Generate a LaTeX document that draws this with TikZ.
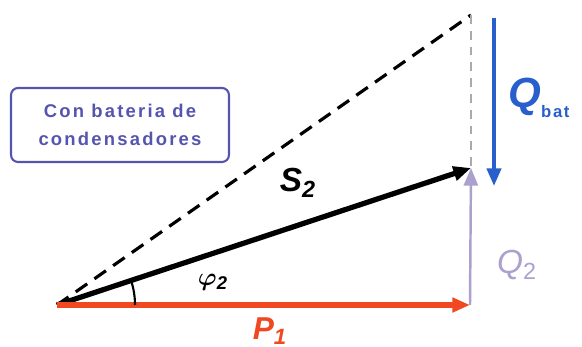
\documentclass[tikz,border=0pt]{standalone}
\usepackage{amsmath}
\usepackage{fontspec}
\setmainfont{Liberation Sans}
\usetikzlibrary{
  arrows.meta,
  positioning,
  calc
}
\definecolor{powerred}{RGB}{240,72,32}
\definecolor{batblue}{RGB}{40,95,205}
\definecolor{qlilac}{RGB}{172,160,205}
\definecolor{boxblue}{RGB}{85,85,175}
\definecolor{guidegray}{RGB}{170,170,170}
\tikzset{
  vec/.style={line width=#1, -{Triangle[length=10pt, width=8pt]}},
  lbl/.style={font=\bfseries\itshape}
}

\begin{document}
\begin{tikzpicture}[x=0.02cm, y=-0.02cm]
  \useasboundingbox (0,0) rectangle (582,347);
  % triangle corners
  \coordinate (o) at (57,305);
  \coordinate (p) at (470,305);
  \coordinate (s) at (471,168);
  \coordinate (t) at (471,15);
  \coordinate (qtop) at (494,18);
  \coordinate (qbot) at (494,186);
  % guides
  \draw[line width=1.8pt, dash pattern=on 8pt off 5pt] (o) -- (t);
  \draw[guidegray, line width=0.8pt, dash pattern=on 5pt off 4pt] (t) -- (s);
  % vectors
  \draw[vec=1.4pt, qlilac] (p) -- (s);
  \draw[vec=3pt, black] (o) -- (s);
  \draw[vec=3pt, powerred] (o) -- (p);
  \draw[vec=2.2pt, batblue] (qtop) -- (qbot);
  % angle
  \draw[line width=1.2pt] ($(o)+(78,0)$) arc[start angle=0, end angle=18.3, radius=1.56cm];
  % labels
  \node[lbl, font=\fontsize{19}{20}\bfseries\itshape] (slbl) at (298,183) {S\textsubscript{2}};
  \node[font=\fontsize{15}{16}\bfseries\itshape] (philbl) at (213,282) {$\boldsymbol{\varphi}$\textsubscript{2}};
  \node[powerred, font=\fontsize{18}{19}\bfseries\itshape] (plbl) at (270,331) {P\textsubscript{1}};
  \node[qlilac, font=\fontsize{19}{20}\itshape] (q2lbl) at (517,265) {Q\textsubscript{\upshape 2}};
  \node[batblue, anchor=west, inner sep=0pt, font=\fontsize{24}{25}\bfseries\itshape] (qbatlbl) at (508,98)
    {Q\raisebox{-6pt}{\fontsize{9.5}{9.5}\selectfont\upshape\addfontfeature{LetterSpace=10}bat}};
  % note box
  \node[draw=boxblue, line width=1.2pt, rounded corners=4pt, text=boxblue, align=center,
        font=\fontsize{10.5}{16}\bfseries\addfontfeature{LetterSpace=12}, minimum width=4.36cm, minimum height=1.48cm, inner sep=6pt]
        (note) at (120,125) {Con bateria de\\condensadores};
\end{tikzpicture}
\end{document}
